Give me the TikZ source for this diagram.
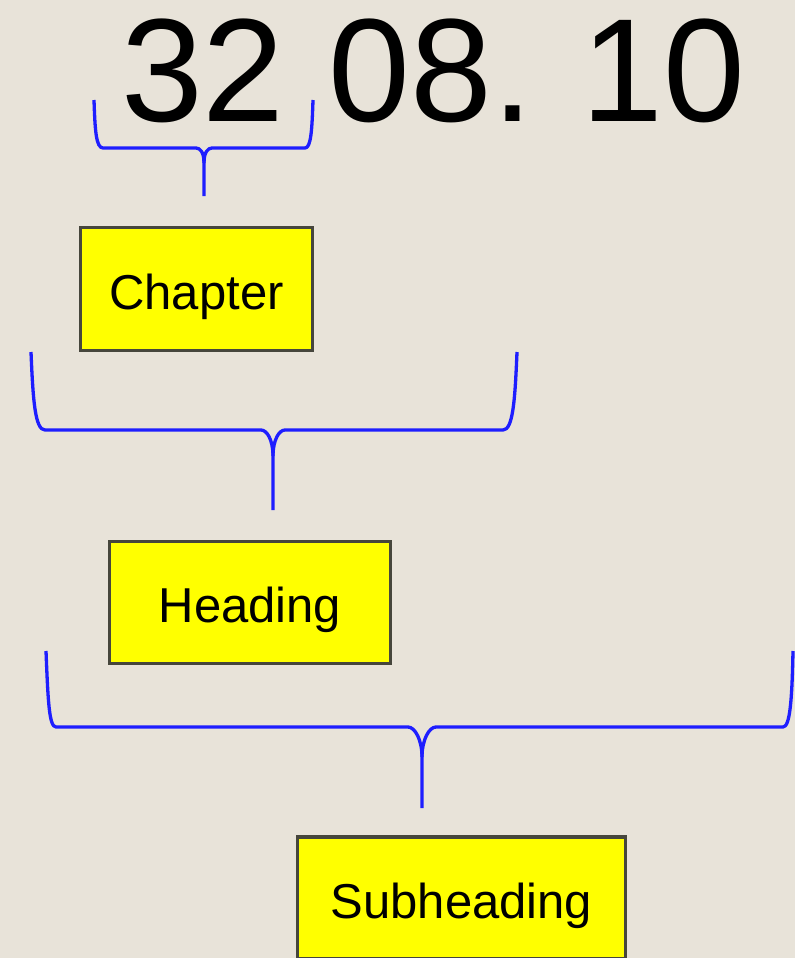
\documentclass[tikz,border=0pt]{standalone}
\usepackage{fontspec}
\setmainfont{Liberation Sans}
\definecolor{bg}{RGB}{232,227,217}
\definecolor{bracecol}{RGB}{30,30,255}
\definecolor{boxline}{RGB}{70,70,60}
\definecolor{boxfill}{RGB}{255,255,0}
\tikzset{
  brace/.style={draw=bracecol, line width=3.3pt, line join=round},
  label box/.style={draw=boxline, fill=boxfill, line width=3.3pt, inner sep=0pt,
    font=\fontsize{49}{49}\selectfont, text=black, text height=48pt, text depth=8pt},
}
\begin{document}
\begin{tikzpicture}[x=1pt,y=-1pt]
\clip (0,0) rectangle (795,958);
\fill[bg] (0,0) rectangle (795,958);

\node[anchor=base west, inner sep=0pt, font=\fontsize{147}{147}\selectfont] (num) at (121,121.5) {\spaceskip=44pt\relax\xspaceskip=49pt\relax 32 08. 10};

% brace under "32"
\coordinate (b1tip) at (204,163);
\coordinate (b1end) at (204,196);
\path[brace] (94,100) .. controls (95,130) and (96,148) .. (103,148) -- (196,148) .. controls (200,148) and (204,152) .. (b1tip) -- (b1end);
\path[brace] (313,100) .. controls (312,130) and (311,148) .. (305,148) -- (212,148) .. controls (208,148) and (204,152) .. (b1tip);

\node[label box, minimum width=232, minimum height=123] (chapter) at (196.5,289) {Chapter};

% brace under "32 08."
\coordinate (b2tip) at (273,456);
\coordinate (b2end) at (273,510);
\path[brace] (31,352) .. controls (33,400) and (35,430) .. (45,430) -- (261,430) .. controls (267,430) and (273,440) .. (b2tip) -- (b2end);
\path[brace] (517,352) .. controls (515,400) and (513,430) .. (503,430) -- (285,430) .. controls (279,430) and (273,440) .. (b2tip);

\node[label box, minimum width=281, minimum height=122] (heading) at (250,602.5) {Heading};

% brace under whole number
\coordinate (b3tip) at (422,757);
\coordinate (b3end) at (422,808);
\path[brace] (46,651) .. controls (48,700) and (49,727) .. (56,727) -- (408,727) .. controls (415,727) and (422,740) .. (b3tip) -- (b3end);
\path[brace] (793,651) .. controls (792,700) and (790,727) .. (783,727) -- (436,727) .. controls (429,727) and (422,740) .. (b3tip);

\node[label box, minimum width=328, minimum height=122] (subheading) at (461.5,898) {Subheading};
\end{tikzpicture}
\end{document}
